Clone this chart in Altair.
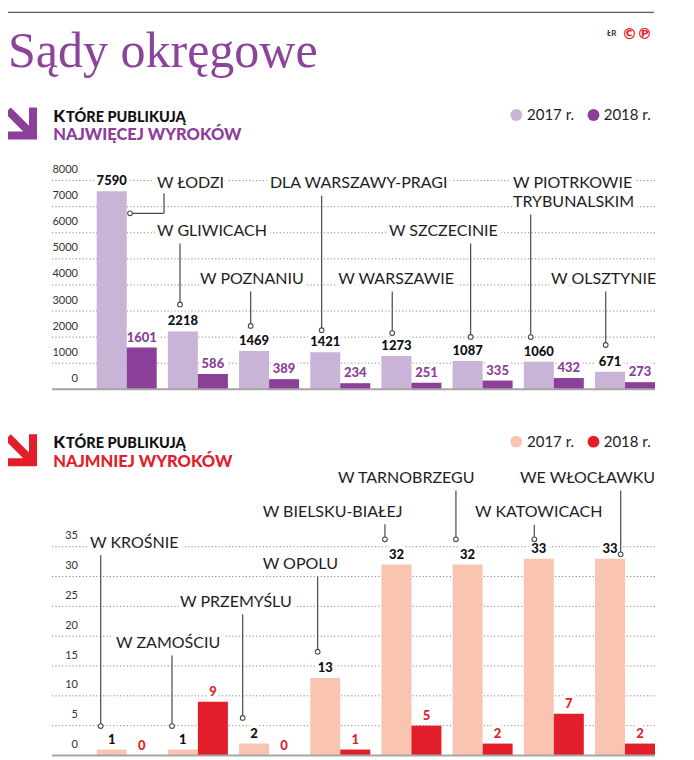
import altair as alt
import pandas as pd

# ---------------- data ----------------
TITLE = "Sądy okręgowe"
YEARS = ["2017 r.", "2018 r."]

TOP_CITIES = ["W ŁODZI", "W GLIWICACH", "W POZNANIU", "DLA WARSZAWY-PRAGI",
              "W WARSZAWIE", "W SZCZECINIE", "W PIOTRKOWIE\nTRYBUNALSKIM", "W OLSZTYNIE"]
TOP_2017 = [7590, 2218, 1469, 1421, 1273, 1087, 1060, 671]
TOP_2018 = [1601, 586, 389, 234, 251, 335, 432, 273]
TOP_TICKS = [0, 1000, 2000, 3000, 4000, 5000, 6000, 7000, 8000]

BOT_CITIES = ["W KROŚNIE", "W ZAMOŚCIU", "W PRZEMYŚLU", "W OPOLU",
              "W BIELSKU-BIAŁEJ", "W TARNOBRZEGU", "W KATOWICACH", "WE WŁOCŁAWKU"]
BOT_2017 = [1, 1, 2, 13, 32, 32, 33, 33]
BOT_2018 = [0, 9, 0, 1, 5, 2, 7, 2]
BOT_TICKS = [0, 5, 10, 15, 20, 25, 30, 35]

# ---------------- annotation layout (label row in data units, pixel offsets) ----------------
TOP_ROW = [7900, 6070, 4230, 7900, 4230, 6070, 7900, 4230]
TOP_LABEL_DX = [-7, -23, -50.7, -51.7, -54, -81.7, -17.7, -54.7]
TOP_LEADER_DX = [52.3, -2.9, -3.4, -3.6, -4.2, 3, -8.1, -4.3]
TOP_DOT_DY = [22, -27, -25, -22, -23, -24, -24.6, -26.8]
TOP_ELBOW = [18.3, None, None, None, None, None, None, None]

BOT_ROW = [35.67, 18.86, 25.78, 32.1, 40.87, 46.51, 40.76, 46.51]
BOT_LABEL_DX = [-10.7, -56, -62.7, -55, -122.3, -118, -59.3, -100.7]
BOT_LEADER_DX = [-11, -10.9, -11.4, -7.6, -11.5, -11.7, -4.5, 10.7]
BOT_DOT_DY = [-23.5, -23.5, -25.6, -26.2, -25.3, -25.3, -19.3, -4.3]
BOT_ELBOW = [None] * 8

# ---------------- styles ----------------
FONT = "Lato"
PURPLE = "#8c3f98"
PURPLE_LIGHT = "#c9b3d7"
RED = "#e31e2b"
SALMON = "#f9c5b0"
TITLE_COL = "#8c449a"
GRID = "#8a8a8a"
LEAD = "#4a4a4a"
TXT = "#1e1e1e"

X_RANGE = [88.7, 647.0]
PAD_IN = 0.157
STEP = (X_RANGE[1] - X_RANGE[0]) / (8 - PAD_IN)
HALF = STEP * (1 - PAD_IN) / 4.0  # half of one sub-bar width

XSCALE = alt.Scale(range=X_RANGE, paddingInner=PAD_IN, paddingOuter=0)
X = alt.X("idx:O", scale=XSCALE, axis=None)
XO = alt.XOffset("yr:N", scale=alt.Scale(domain=YEARS, paddingInner=0, paddingOuter=0))

ARROW = "M -0.64 -1 L 0.5 0.14 L 0.5 -1 L 1 -1 L 1 1 L -1 1 L -1 0.5 L 0.14 0.5 L -1 -0.64 Z"


def txt(s, x, y, **kw):
    return alt.Chart(pd.DataFrame({"t": [s]})).mark_text(**kw).encode(
        x=alt.value(x), y=alt.value(y), text="t:N")


def panel(cities, v17, v18, ticks, yscale, c17, c18, c18txt,
          rows, label_dx, leader_dx, dot_dy, elbow):
    n = len(cities)
    bars = pd.DataFrame({
        "idx": list(range(n)) * 2,
        "yr": [YEARS[0]] * n + [YEARS[1]] * n,
        "v": list(v17) + list(v18),
    })
    Y = alt.Y("v:Q", scale=yscale, axis=None)
    LY = alt.Y("ly:Q", scale=yscale, axis=None)
    grid_l, halo_l, bar_l, text_l, lead_l = [], [], [], [], []

    # dotted gridlines
    grid = pd.DataFrame({"v": ticks[1:]})
    grid_l.append(alt.Chart(grid).mark_rule(color=GRID, strokeWidth=1, strokeDash=[1.2, 2.2]).encode(
        x=alt.value(44), x2=alt.value(647), y=Y))
    # tick labels
    tl = pd.DataFrame({"v": ticks, "lbl": [str(t) for t in ticks]})
    grid_l.append(alt.Chart(tl).mark_text(align="right", baseline="middle", dy=-10.5, font=FONT,
                                          fontSize=11, color="#333333").encode(
        x=alt.value(70), y=Y, text="lbl:N"))
    # bars + baseline
    bar_l.append(alt.Chart(bars).mark_bar(opacity=1).encode(
        x=X, xOffset=XO, y=Y,
        color=alt.condition(alt.datum.yr == YEARS[0], alt.value(c17), alt.value(c18))))
    bar_l.append(alt.Chart(pd.DataFrame({"v": [0]})).mark_rule(color="#a5a5a5", strokeWidth=2).encode(
        x=alt.value(44), x2=alt.value(647), y=Y))
    # value labels (halo + text)
    vl = dict(baseline="alphabetic", dy=-6, font=FONT, fontWeight=900, fontSize=13)
    halo_l.append(alt.Chart(bars).mark_text(color="white", stroke="white", strokeWidth=7,
                                            strokeJoin="round", **vl).encode(
        x=X, xOffset=XO, y=Y, text=alt.Text("v:Q", format="d")))
    text_l.append(alt.Chart(bars).mark_text(**vl).encode(
        x=X, xOffset=XO, y=Y, text=alt.Text("v:Q", format="d"),
        color=alt.condition(alt.datum.yr == YEARS[0], alt.value("#111111"), alt.value(c18txt))))
    # annotations
    for g in range(n):
        lines = cities[g].split("\n")
        df = pd.DataFrame({"idx": [g], "ly": [rows[g]], "v": [v17[g]]})
        for i, line in enumerate(lines):
            d2 = df.assign(t=line)
            base = dict(align="left", baseline="middle", font=FONT, fontSize=16, fontWeight=400,
                        dx=leader_dx[g] - HALF + label_dx[g], dy=i * 18.7)
            halo_l.append(alt.Chart(d2).mark_text(color="white", stroke="white", strokeWidth=9,
                                                  strokeJoin="round", **base).encode(
                x=X, y=LY, text="t:N"))
            text_l.append(alt.Chart(d2).mark_text(color=TXT, **base).encode(
                x=X, y=LY, text="t:N"))
        top_off = (10 if elbow[g] is not None else 12.5) + (len(lines) - 1) * 18.7
        lead_l.append(alt.Chart(df).mark_rule(color=LEAD, strokeWidth=1.2,
                                              xOffset=leader_dx[g] - HALF,
                                              yOffset=top_off, y2Offset=dot_dy[g]).encode(
            x=X, y=LY, y2="v:Q"))
        dot_x = leader_dx[g]
        if elbow[g] is not None:
            dot_x = elbow[g]
            lead_l.append(alt.Chart(df).mark_tick(orient="horizontal", color=LEAD, opacity=1,
                                                  size=leader_dx[g] - elbow[g], thickness=1.2,
                                                  xOffset=(leader_dx[g] + elbow[g]) / 2 - HALF,
                                                  yOffset=dot_dy[g]).encode(x=X, y=Y))
        lead_l.append(alt.Chart(df).mark_circle(size=22, fill="white", stroke=LEAD, strokeWidth=1.1,
                                                opacity=1, xOffset=dot_x - HALF,
                                                yOffset=dot_dy[g]).encode(x=X, y=Y))
    return alt.layer(*(grid_l + halo_l + bar_l + text_l + lead_l))


top_scale = alt.Scale(domain=[0, 8000], range=[381.3, 172.6], nice=False, zero=True)
bot_scale = alt.Scale(domain=[0, 35], range=[747.5, 538.7], nice=False, zero=True)

top = panel(TOP_CITIES, TOP_2017, TOP_2018, TOP_TICKS, top_scale, PURPLE_LIGHT, PURPLE, PURPLE,
            TOP_ROW, TOP_LABEL_DX, TOP_LEADER_DX, TOP_DOT_DY, TOP_ELBOW)
bot = panel(BOT_CITIES, BOT_2017, BOT_2018, BOT_TICKS, bot_scale, SALMON, RED, RED,
            BOT_ROW, BOT_LABEL_DX, BOT_LEADER_DX, BOT_DOT_DY, BOT_ELBOW)

# ---------------- header elements ----------------
hdr = []
hdr.append(alt.Chart(pd.DataFrame({"a": [0]})).mark_rule(color="#5a5a5a", strokeWidth=1.3).encode(
    x=alt.value(0), x2=alt.value(646), y=alt.value(4.3)))
hdr.append(txt(TITLE, 0, 59, align="left", baseline="alphabetic", font="Liberation Serif",
               fontSize=50, color=TITLE_COL))
hdr.append(txt("ŁR", 599, 25.5, align="left", baseline="middle", font=FONT, fontSize=8,
               fontWeight="bold", color="#333333"))
hdr.append(txt("©℗", 614, 25.5, align="left", baseline="middle", font="DejaVu Sans",
               fontSize=15, fontWeight="bold", color=RED))


def section_header(dy, col, light, dark, second):
    out = []
    out.append(alt.Chart(pd.DataFrame({"a": [0]})).mark_point(
        shape=ARROW, size=1024, filled=True, color=col, opacity=1, strokeWidth=0).encode(
        x=alt.value(13), y=alt.value(115.5 + dy)))
    out.append(txt("K", 45.3, 113.7 + dy, align="left", baseline="alphabetic", font=FONT,
                   fontSize=17, fontWeight=900, color="#111111"))
    out.append(txt("TÓRE PUBLIKUJĄ", 58, 113.7 + dy, align="left", baseline="alphabetic", font=FONT,
                   fontSize=14.5, fontWeight=900, color="#111111"))
    out.append(txt(second, 45.3, 132 + dy, align="left", baseline="alphabetic", font=FONT,
                   fontSize=16.5, fontWeight=900, color=col))
    for cx, tx, c, lab in [(508.3, 519, light, YEARS[0]), (585.5, 595.7, dark, YEARS[1])]:
        out.append(alt.Chart(pd.DataFrame({"a": [0]})).mark_circle(size=140, color=c, opacity=1).encode(
            x=alt.value(cx), y=alt.value(107 + dy)))
        out.append(txt(lab, tx, 107 + dy, align="left", baseline="middle", font=FONT, fontSize=15,
                       fontWeight=400, color="#222222"))
    return out


hdr += section_header(0, PURPLE, PURPLE_LIGHT, PURPLE, "NAJWIĘCEJ WYROKÓW")
hdr += section_header(326.7, RED, SALMON, RED, "NAJMNIEJ WYROKÓW")

chart = alt.layer(*hdr, top, bot).resolve_scale(y="independent").properties(
    width=670, height=752, padding=0, autosize="none"
).configure_view(strokeWidth=0)

chart.save("out.html", embed_options={"renderer": "svg", "actions": False})
